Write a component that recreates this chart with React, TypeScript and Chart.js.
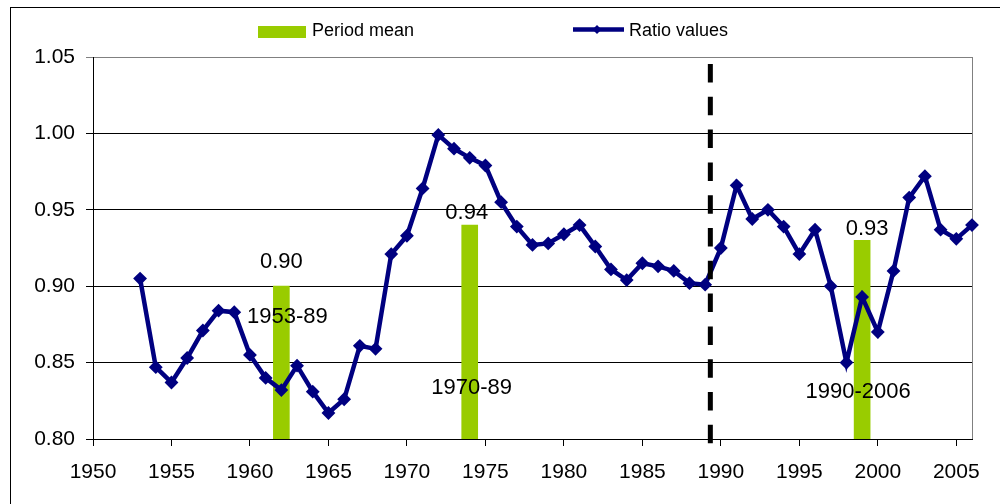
import React, { useEffect, useRef } from "react";
import { Chart, registerables } from "chart.js";

Chart.register(...registerables);

// ---- data ----
const years: number[] = [
  1953, 1954, 1955, 1956, 1957, 1958, 1959, 1960, 1961, 1962, 1963, 1964, 1965, 1966, 1967, 1968, 1969,
  1970, 1971, 1972, 1973, 1974, 1975, 1976, 1977, 1978, 1979, 1980, 1981, 1982, 1983, 1984, 1985, 1986,
  1987, 1988, 1989, 1990, 1991, 1992, 1993, 1994, 1995, 1996, 1997, 1998, 1999, 2000, 2001, 2002, 2003,
  2004, 2005, 2006,
];
const ratioValues: number[] = [
  0.905, 0.847, 0.837, 0.853, 0.871, 0.884, 0.883, 0.855, 0.840, 0.832, 0.848, 0.831, 0.817, 0.826, 0.861,
  0.859, 0.921, 0.933, 0.964, 0.999, 0.990, 0.984, 0.979, 0.955, 0.939, 0.927, 0.928, 0.934, 0.940, 0.926,
  0.911, 0.904, 0.915, 0.913, 0.910, 0.902, 0.901, 0.925, 0.966, 0.944, 0.950, 0.939, 0.921, 0.937, 0.900,
  0.850, 0.893, 0.870, 0.910, 0.958, 0.972, 0.937, 0.931, 0.940,
];
const periodBarYears: number[] = [1962, 1974, 1999];
const periodMeans: number[] = [0.9, 0.94, 0.93];
const periodNames: string[] = ["1953-89", "1970-89", "1990-2006"];
const breakYear = 1989.33;
const xTickStep = 5;
const yTickStep = 0.05;

const FONT = "'Liberation Sans', Arial, Helvetica, sans-serif";
const NAVY = "#000080";
const LIME = "#99CC00";

// label placement relative to bar top (pixels)
const valueLabelOffsets = [
  [0, -18],
  [-3, -6],
  [5, -5],
];
const nameLabelOffsets = [
  [6, 37],
  [2, 168.5],
  [-4, 157.7],
];

const extrasPlugin = {
  id: "extras",
  beforeDatasetsDraw(chart: any) {
    const { ctx, chartArea } = chart;
    ctx.save();
    ctx.strokeStyle = "#808080";
    ctx.lineWidth = 1;
    ctx.beginPath();
    ctx.moveTo(Math.round(chartArea.right) + 0.5, chartArea.top);
    ctx.lineTo(Math.round(chartArea.right) + 0.5, chartArea.bottom);
    ctx.stroke();
    ctx.restore();
  },
  afterDatasetsDraw(chart: any) {
    const { ctx, scales } = chart;
    const xs = scales.x;
    const ys = scales.y;
    ctx.save();

    // dashed break line
    const bx = xs.getPixelForValue(breakYear);
    ctx.strokeStyle = "#000";
    ctx.lineWidth = 5;
    ctx.setLineDash([18.5, 14.3]);
    ctx.beginPath();
    ctx.moveTo(bx, 64);
    ctx.lineTo(bx, 444);
    ctx.stroke();
    ctx.setLineDash([]);

    // period labels
    ctx.fillStyle = "#000";
    ctx.textAlign = "center";
    ctx.textBaseline = "alphabetic";
    ctx.font = `22px ${FONT}`;
    periodBarYears.forEach((yr, i) => {
      const cx = xs.getPixelForValue(yr);
      const top = ys.getPixelForValue(periodMeans[i]);
      ctx.fillText(
        periodMeans[i].toFixed(2),
        cx + valueLabelOffsets[i][0],
        top + valueLabelOffsets[i][1]
      );
      ctx.fillText(periodNames[i], cx + nameLabelOffsets[i][0], top + nameLabelOffsets[i][1]);
    });

    // outer chart border
    ctx.strokeStyle = "#000";
    ctx.lineWidth = 1;
    ctx.strokeRect(10.5, 7.5, 1200, 800);

    // legend
    ctx.fillStyle = LIME;
    ctx.fillRect(258, 26, 48, 12);
    ctx.fillStyle = "#000";
    ctx.font = `18px ${FONT}`;
    ctx.textAlign = "left";
    ctx.fillText("Period mean", 312, 36);

    ctx.strokeStyle = NAVY;
    ctx.lineWidth = 4.5;
    ctx.beginPath();
    ctx.moveTo(573, 29.5);
    ctx.lineTo(624, 29.5);
    ctx.stroke();
    ctx.fillStyle = NAVY;
    ctx.beginPath();
    ctx.moveTo(597 - 4.5, 29.5);
    ctx.lineTo(597, 25);
    ctx.lineTo(597 + 4.5, 29.5);
    ctx.lineTo(597, 34);
    ctx.closePath();
    ctx.fill();
    ctx.fillStyle = "#000";
    ctx.fillText("Ratio values", 629, 36);

    ctx.restore();
  },
};

export default function App() {
  const canvasRef = useRef<HTMLCanvasElement | null>(null);

  useEffect(() => {
    if (!canvasRef.current) return;
    const chart = new Chart(canvasRef.current, {
      type: "bar",
      data: {
        datasets: [
          {
            type: "line",
            label: "Ratio values",
            data: years.map((x, i) => ({ x, y: ratioValues[i] })),
            borderColor: NAVY,
            backgroundColor: NAVY,
            borderWidth: 4.5,
            pointStyle: "rectRot",
            pointRadius: 5.5,
            pointBorderWidth: 2,
            pointBackgroundColor: NAVY,
            pointBorderColor: NAVY,
            tension: 0,
            clip: false,
            order: 0,
          } as any,
          {
            type: "bar",
            label: "Period mean",
            data: periodBarYears.map((x, i) => ({ x, y: periodMeans[i] })),
            backgroundColor: LIME,
            barThickness: 16,
            order: 1,
          } as any,
        ],
      },
      options: {
        animation: false,
        responsive: false,
        maintainAspectRatio: false,
        layout: { padding: { left: 0, right: 28, top: 57, bottom: 0 } },
        plugins: {
          legend: { display: false },
          tooltip: { enabled: false },
        },
        scales: {
          x: {
            type: "linear",
            min: 1950,
            max: 2006,
            offset: false,
            ticks: {
              stepSize: xTickStep,
              includeBounds: false,
              padding: 14,
              color: "#000",
              font: { family: FONT, size: 21 },
              maxRotation: 0,
              autoSkip: false,
              callback: (v: any) => String(v),
            },
            grid: {
              offset: false,
              drawOnChartArea: false,
              drawTicks: true,
              tickLength: 7,
              color: "#000",
            },
            border: { color: "#000", width: 1 },
            afterFit: (s: any) => {
              s.height = 65;
            },
          },
          y: {
            min: 0.8,
            max: 1.05,
            ticks: {
              stepSize: yTickStep,
              padding: 11,
              color: "#000",
              font: { family: FONT, size: 21 },
              callback: (v: any) => Number(v).toFixed(2),
            },
            grid: {
              tickLength: 7,
              color: (c: any) =>
                c.tick && Math.abs(c.tick.value - 1.05) < 1e-6 ? "#808080" : "#000",
            },
            border: { color: "#000", width: 1 },
            afterFit: (s: any) => {
              s.width = 93;
            },
          },
        },
      } as any,
      plugins: [extrasPlugin],
    });
    return () => chart.destroy();
  }, []);

  return (
    <div style={{ position: "fixed", left: 0, top: 0, width: 1000, height: 504, background: "#fff" }}>
      <canvas ref={canvasRef} width={1000} height={504} style={{ display: "block" }} />
    </div>
  );
}
